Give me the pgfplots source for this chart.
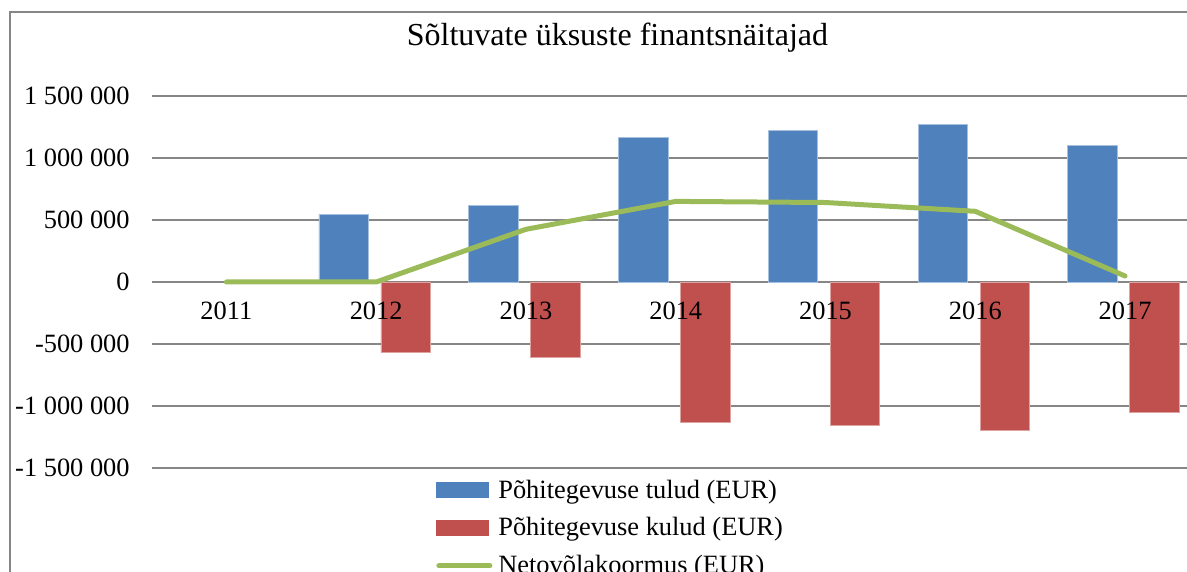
\documentclass[border=0pt]{standalone}
\usepackage{fontspec}
\setmainfont{Liberation Serif}
\usepackage{pgfplots}
\pgfplotsset{compat=1.18}
\definecolor{tulud}{HTML}{4F81BD}
\definecolor{tuludserv}{HTML}{A7C0DE}
\definecolor{kulud}{HTML}{C0504D}
\definecolor{kuludserv}{HTML}{DDA3A1}
\definecolor{neto}{HTML}{9BBB59}
\definecolor{joon}{HTML}{868686}
\pgfplotsset{
  minuaknad/.style={
    at={(75.75pt,52pt)}, anchor=south west,
    width=524.25pt, height=186pt, scale only axis,
    xmin=2010.5, xmax=2017.5,
    ymin=-1500000, ymax=1500000,
    axis x line=middle, axis y line=left,
    axis line style={draw=none},
    hide obscured x ticks=false,
    scaled y ticks=false,
    major tick length=0pt,
    tick label style={font=\fontsize{13.2}{15}\selectfont},
  }
}
\begin{document}
\begin{tikzpicture}
\useasboundingbox (0,0) rectangle (593.5pt,286pt);
\clip (0,0) rectangle (593.5pt,286pt);
% raam (paremalt ja alt pilt lõigatud)
\draw[joon, line width=1pt] (5pt,-20pt) rectangle (650pt,280.2pt);
\node[anchor=base, font=\fontsize{16}{19}\selectfont] at (308.75pt,263.15pt)
  {Sõltuvate üksuste finantsnäitajad};
\begin{axis}[
    minuaknad,
    ybar, bar width=24.75pt,
    xtick={2011,2012,2013,2014,2015,2016,2017},
    xticklabels={},
    ytick={-1500000,-1000000,-500000,0,500000,1000000,1500000},
    yticklabels={-1 500 000,-1 000 000,-500 000,0,500 000,1 000 000,1 500 000},
    ymajorgrids,
    major grid style={joon, line width=0.8pt},
    yticklabel style={anchor=east, xshift=-7.4pt},
    legend style={at={(axis description cs:0.2713,-0.0315)}, anchor=north west,
                  draw=none, fill=none, inner sep=0pt, outer sep=0pt,
                  row sep=8.2pt, column sep=3pt,
                  font=\fontsize{13.2}{15}\selectfont,
                  nodes={inner sep=0pt}},
    legend cell align=left,
]

% tulud
\addplot[fill=tulud, draw=tuludserv, line width=0.4pt, bar shift=-16.25pt,
  legend image code/.code={\fill[tulud] (0pt,-3.75pt) rectangle (26pt,3.75pt);}]
  coordinates {
    (2012, 548000) (2013, 615000) (2014, 1169000) (2015, 1224000)
    (2016, 1273000) (2017, 1103000)
};

% kulud
\addplot[fill=kulud, draw=kuludserv, line width=0.4pt, bar shift=14.75pt,
  legend image code/.code={\fill[kulud] (0pt,-3.75pt) rectangle (26pt,3.75pt);}]
  coordinates {
    (2012, -567000) (2013, -607000) (2014, -1135000) (2015, -1153000)
    (2016, -1194000) (2017, -1055000)
};

% netovõlakoormus
\addplot[sharp plot, neto, line width=2.5pt, line cap=round, line join=round, mark=none,
  legend image code/.code={\draw[neto, line width=2.5pt, line cap=round] (1.25pt,0pt) -- (26.75pt,0pt);}]
  coordinates {
    (2011, 0) (2012, 0) (2013, 425000) (2014, 650000) (2015, 641000)
    (2016, 570000) (2017, 48000)
};

\legend{Põhitegevuse tulud (EUR), Põhitegevuse kulud (EUR), Netovõlakoormus (EUR)}
\end{axis}
% aastad teise telje abil tulpade peale
\begin{axis}[
    minuaknad,
    xtick={2011,2012,2013,2014,2015,2016,2017},
    xticklabels={2011,2012,2013,2014,2015,2016,2017},
    ytick=\empty,
    xticklabel style={anchor=north, yshift=-6.3pt},
]
\end{axis}
\end{tikzpicture}
\end{document}
